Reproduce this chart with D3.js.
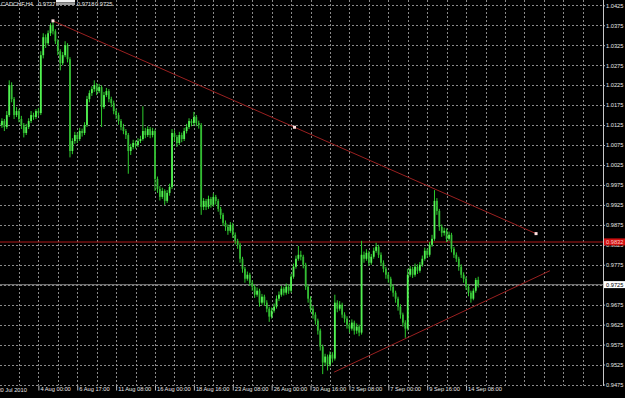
<!doctype html>
<html lang="en">
<head>
<meta charset="utf-8">
<title>CADCHF,H4</title>
<style>
 body { margin: 0; background: #000; }
 svg { display: block; font-family: "Liberation Sans", Arial, sans-serif; }
 .grid line { stroke: #8a8a8a; stroke-dasharray: 2,2; }
 .axis text { fill: #e6e6e6; font-size: 5.7px; }
 .axis line { stroke: #bdbdbd; }
</style>
</head>
<body>
<svg id="chart" width="625" height="398"></svg>
<script src="https://cdnjs.cloudflare.com/ajax/libs/d3/7.8.5/d3.min.js"></script>
<script>
// H4 bars, prices in pips (x 10000). open = previous close
var firstOpen = 10130;
var closes = [10125,10135,10120,10150,10225,10190,10150,10160,10140,10125,
  10105,10120,10135,10150,10145,10160,10155,10300,10345,10330,
  10355,10375,10360,10335,10310,10280,10300,10325,10290,10060,
  10085,10100,10090,10110,10105,10125,10190,10205,10215,10225,
  10210,10220,10170,10200,10210,10190,10180,10160,10150,10135,
  10120,10110,10100,10060,10070,10080,10075,10085,10090,10110,
  10100,10115,10100,10110,9990,9965,9945,9960,9935,9955,
  9970,10105,10095,10080,10100,10090,10110,10120,10135,10130,
  10145,10130,10125,9920,9935,9920,9940,9925,9945,9935,
  9915,9900,9880,9870,9860,9875,9850,9835,9825,9790,
  9765,9740,9750,9730,9720,9700,9710,9680,9695,9680,
  9665,9645,9660,9670,9690,9700,9715,9705,9720,9710,
  9745,9770,9790,9800,9795,9775,9720,9690,9665,9650,
  9635,9610,9570,9530,9545,9525,9550,9540,9680,9665,
  9675,9650,9640,9625,9615,9630,9610,9620,9605,9800,
  9790,9805,9780,9795,9810,9820,9800,9780,9765,9750,
  9740,9720,9705,9690,9670,9650,9630,9615,9750,9765,
  9750,9770,9760,9775,9790,9810,9800,9825,9840,9935,
  9910,9870,9855,9860,9840,9850,9815,9800,9790,9770,
  9750,9740,9720,9705,9690,9710,9737,9725];
var highs = [10140,10142,10140,10160,10237,10232,10195,10170,10165,10148,
  10130,10128,10142,10160,10156,10165,10168,10310,10355,10352,
  10362,10380,10386,10365,10340,10315,10308,10335,10330,10295,
  10092,10108,10106,10118,10116,10132,10198,10212,10222,10237,
  10230,10228,10224,10208,10218,10215,10196,10186,10166,10156,
  10140,10128,10115,10105,10078,10088,10086,10092,10098,10172,
  10118,10122,10120,10118,10114,9996,9972,9968,9964,9962,
  9978,10115,10112,10100,10108,10106,10118,10128,10142,10140,
  10158,10150,10136,10130,9942,9940,9948,9945,9954,9950,
  9940,9920,9905,9886,9876,9882,9880,9856,9840,9830,
  9795,9770,9758,9755,9736,9725,9718,9715,9702,9700,
  9686,9670,9668,9678,9698,9708,9722,9720,9728,9726,
  9752,9778,9798,9822,9810,9800,9780,9725,9696,9672,
  9656,9640,9615,9575,9552,9550,9558,9556,9700,9686,
  9684,9680,9656,9646,9630,9638,9635,9628,9625,9835,
  9808,9814,9810,9802,9818,9830,9825,9806,9786,9770,
  9756,9745,9726,9710,9695,9676,9655,9636,9765,9772,
  9770,9778,9776,9782,9798,9818,9815,9832,9850,9962,
  9942,9915,9876,9868,9866,9858,9855,9820,9806,9795,
  9776,9756,9745,9726,9710,9716,9742,9745];
var lows = [10112,10118,10110,10115,10145,10182,10140,10145,10132,10115,
  10094,10100,10115,10130,10138,10140,10148,10150,10292,10318,
  10325,10348,10352,10328,10300,10262,10275,10295,10282,10044,
  10052,10078,10080,10085,10096,10100,10120,10182,10198,10208,
  10200,10205,10120,10165,10195,10182,10170,10152,10140,10126,
  10112,10102,10090,10003,10050,10064,10066,10070,10080,10086,
  10092,10095,10092,10094,9960,9955,9936,9940,9925,9930,
  9948,9965,10085,10070,10075,10082,10085,10104,10115,10122,
  10125,10122,10116,9900,9912,9912,9915,9918,9920,9926,
  9908,9890,9872,9860,9850,9855,9842,9826,9815,9780,
  9755,9730,9735,9722,9710,9692,9695,9670,9675,9672,
  9656,9632,9640,9655,9665,9684,9695,9698,9700,9702,
  9705,9740,9765,9785,9786,9766,9712,9680,9656,9640,
  9625,9600,9560,9501,9522,9510,9520,9530,9535,9656,
  9660,9642,9630,9615,9605,9610,9600,9602,9596,9600,
  9780,9785,9772,9775,9790,9805,9792,9772,9756,9740,
  9730,9710,9695,9680,9660,9640,9620,9592,9610,9745,
  9742,9745,9752,9755,9770,9785,9792,9795,9820,9835,
  9900,9860,9845,9848,9832,9835,9806,9792,9782,9760,
  9742,9730,9712,9696,9680,9686,9705,9718];

var priceTicks = [1.0425,1.0375,1.0325,1.0275,1.0225,1.0175,1.0125,1.0075,1.0025,0.9975,
  0.9925,0.9875,0.9825,0.9775,0.9725,0.9675,0.9625,0.9575,0.9525,0.9475];
var dateBars = [16,32,48,64,80,96,112,128,144,160,176,192];
var dateLabels = ["4 Aug 00:00","6 Aug 17:00","11 Aug 08:00","16 Aug 00:00","18 Aug 16:00",
  "23 Aug 08:00","26 Aug 00:00","30 Aug 16:00","2 Sep 08:00","7 Sep 00:00","9 Sep 16:00","14 Sep 08:00"];
var firstDateLabel = "30 Jul 2010";

// drawn objects: [bar, price] pairs
var upperTrend = [[22, 1.0386], [220.8, 0.9853]];
var lowerTrend = [[137.7, 0.9506], [226.5, 0.9760]];
var redLevel = 0.9832;
var bidLevel = 0.9725;
var header = {sym: "CADCHF,H4", open: "0.9737", low: "0.9718", close: "0.9725"};

var W = 625, H = 398, right = 603, bottom = 385.5;
var svg = d3.select("#chart");
svg.append("rect").attr("width", W).attr("height", H).attr("fill", "#000");

var x = d3.scaleLinear().domain([0, 100]).range([-0.5, 242.5]);
var y = d3.scaleLinear().domain([0.9475, 1.0425]).range([384.5, 5.3]);

// grid
var gridBars = d3.range(8, 248, 8).filter(function(b) { return x(b) < right - 2; });
var grid = svg.append("g").attr("class", "grid");
grid.selectAll("line.v").data(gridBars).enter().append("line")
  .attr("class", "v")
  .attr("x1", function(d) { return Math.round(x(d)) + 0.5; })
  .attr("x2", function(d) { return Math.round(x(d)) + 0.5; })
  .attr("y1", 0).attr("y2", bottom);
grid.selectAll("line.h").data(priceTicks).enter().append("line")
  .attr("class", "h")
  .attr("x1", 0).attr("x2", right)
  .attr("y1", function(d) { return Math.round(y(d)) + 0.5; })
  .attr("y2", function(d) { return Math.round(y(d)) + 0.5; });

// price lines
svg.append("line").attr("x1", 0).attr("x2", right)
  .attr("y1", y(redLevel)).attr("y2", y(redLevel))
  .attr("stroke", "#b01818").attr("stroke-width", 1.2);
svg.append("line").attr("x1", 0).attr("x2", right)
  .attr("y1", y(bidLevel)).attr("y2", y(bidLevel))
  .attr("stroke", "#8c8c8c").attr("stroke-width", 1);

// candles
var bars = closes.map(function(c, i) {
  return {i: i, o: (i ? closes[i - 1] : firstOpen) / 1e4, c: c / 1e4, h: highs[i] / 1e4, l: lows[i] / 1e4};
});
var cg = svg.append("g");
cg.selectAll("line").data(bars).enter().append("line")
  .attr("x1", function(d) { return x(d.i); })
  .attr("x2", function(d) { return x(d.i); })
  .attr("y1", function(d) { return y(d.h); })
  .attr("y2", function(d) { return y(d.l); })
  .attr("stroke", "#2ccc2c").attr("stroke-width", 1);
cg.selectAll("rect").data(bars).enter().append("rect")
  .attr("x", function(d) { return x(d.i) - 0.9; })
  .attr("width", 1.8)
  .attr("y", function(d) { return y(Math.max(d.o, d.c)); })
  .attr("height", function(d) { return Math.max(1, Math.abs(y(d.o) - y(d.c))); })
  .attr("fill", function(d) { return d.c >= d.o ? "#52f252" : "#34bc34"; });

// trend lines
var line = d3.line().x(function(d) { return x(d[0]); }).y(function(d) { return y(d[1]); });
svg.append("path").attr("d", line(upperTrend)).attr("stroke", "#9a2020").attr("fill", "none").attr("stroke-width", 1);
svg.append("path").attr("d", line(lowerTrend)).attr("stroke", "#9a2020").attr("fill", "none").attr("stroke-width", 1);
var mid = [(upperTrend[0][0] + upperTrend[1][0]) / 2, (upperTrend[0][1] + upperTrend[1][1]) / 2];
svg.selectAll("rect.marker").data([upperTrend[0], mid, upperTrend[1]]).enter().append("rect")
  .attr("class", "marker")
  .attr("x", function(d) { return x(d[0]) - 1.5; })
  .attr("y", function(d) { return y(d[1]) - 1.5; })
  .attr("width", 3).attr("height", 3)
  .attr("fill", "#ffe0e0");

// right price axis
svg.append("rect").attr("x", right).attr("y", 0).attr("width", W - right).attr("height", H).attr("fill", "#000");
svg.append("rect").attr("x", 0).attr("y", bottom + 0.5).attr("width", W).attr("height", H - bottom).attr("fill", "#000");
var yAxis = svg.append("g").attr("class", "axis")
  .attr("transform", "translate(" + right + ",0)")
  .call(d3.axisRight(y).tickValues(priceTicks).tickFormat(d3.format(".4f")).tickSize(2).tickPadding(1));
yAxis.select(".domain").remove();
svg.append("line").attr("x1", right + 0.5).attr("x2", right + 0.5).attr("y1", 0).attr("y2", bottom + 0.5)
  .attr("stroke", "#c8c8c8");

// price tags
svg.append("rect").attr("x", right + 1).attr("y", y(redLevel) - 3.6).attr("width", 21).attr("height", 7)
  .attr("fill", "#d01010");
svg.append("text").attr("x", right + 3).attr("y", y(redLevel) + 2)
  .attr("font-size", "5.7px").attr("fill", "#ffc8c8").text(redLevel.toFixed(4));
svg.append("rect").attr("x", right + 1).attr("y", y(bidLevel) - 3.6).attr("width", 21).attr("height", 7)
  .attr("fill", "#ffffff");
svg.append("text").attr("x", right + 3).attr("y", y(bidLevel) + 2)
  .attr("font-size", "5.7px").attr("fill", "#000").text(bidLevel.toFixed(4));

// time axis
var xAxis = svg.append("g").attr("class", "axis")
  .attr("transform", "translate(0," + bottom + ")")
  .call(d3.axisBottom(x).tickValues(dateBars).tickSize(5).tickPadding(-1)
    .tickFormat(function(d, k) { return dateLabels[k]; }));
xAxis.select(".domain").remove();
xAxis.selectAll("text").attr("text-anchor", "start").attr("dx", "1.5px").attr("dy", "0.3em");
svg.append("text").attr("x", -2.6).attr("y", 392.3).attr("font-size", "5.7px").attr("fill", "#e6e6e6")
  .text(firstDateLabel);

// header
var hd = svg.append("g").attr("font-size", "5.7px").attr("fill", "#e6e6e6");
hd.append("text").attr("x", 1).attr("y", 6.2).text(header.sym);
hd.append("text").attr("x", 38).attr("y", 6.2).text(header.open);
hd.append("rect").attr("x", 56).attr("y", 0).attr("width", 19).attr("height", 2.5).attr("fill", "#f2f2f2");
hd.append("rect").attr("x", 56).attr("y", 3).attr("width", 19).attr("height", 2).attr("fill", "#9a9a9a");
hd.append("text").attr("x", 77).attr("y", 6.2).text(header.low);
hd.append("text").attr("x", 95).attr("y", 6.2).text(header.close);
</script>
</body>
</html>
